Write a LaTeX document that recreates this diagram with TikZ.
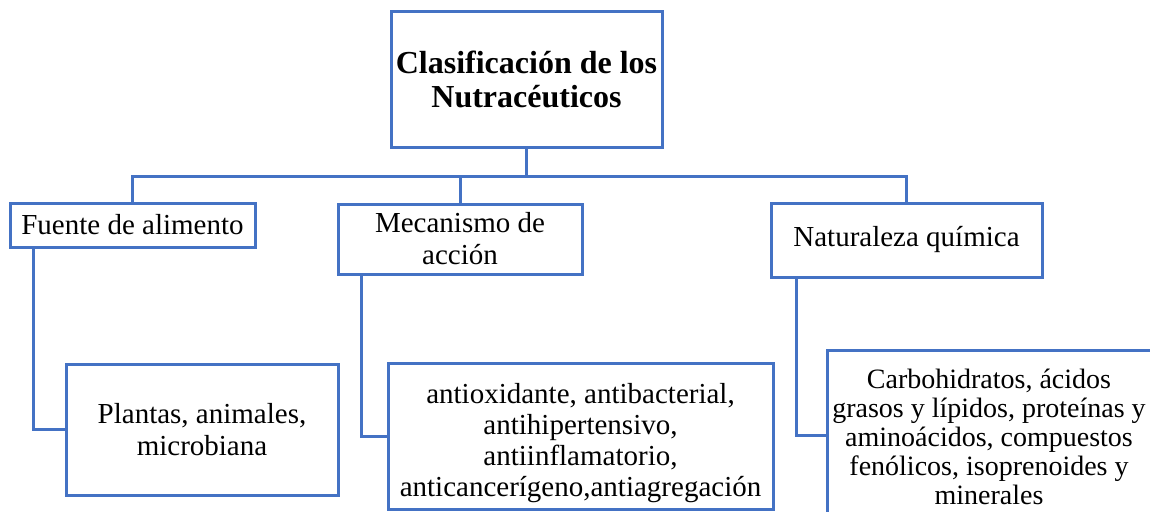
\documentclass[tikz,border=0pt]{standalone}
\usepackage{fontspec}
\setmainfont{Liberation Serif}
\definecolor{wordblue}{RGB}{68,114,196}
\tikzset{
  box/.style={draw=wordblue, line width=3pt, fill=white, align=center, inner sep=0pt,
    font=\fontsize{29}{32}\selectfont},
  titlebox/.style={box, font=\fontsize{32}{34}\selectfont\bfseries},
  txt/.style={align=center, inner sep=0pt},
  conn/.style={draw=wordblue, line width=3pt},
}
\begin{document}
\begin{tikzpicture}[x=1pt,y=-1pt]
\useasboundingbox (0,0) rectangle (1150,511);
\clip (0,0) rectangle (1150,511);
\fill[white] (0,0) rectangle (1150,511);
% title
\node[titlebox, minimum width=271pt, minimum height=135pt] (t) at (526.5,79.5) {Clasificación de los\\Nutracéuticos};
% level 1
\node[box, minimum width=245pt, minimum height=44pt] (f) at (132.5,225) {Fuente de alimento};
\node[box, minimum width=244pt, minimum height=70pt] (m) at (460,239) {Mecanismo de\\acción};
\node[box, minimum width=271pt, minimum height=74pt] (n) at (906.5,240) {Naturaleza química};
% level 2
\node[box, minimum width=272pt, minimum height=131pt] (p) at (202,429.5) {Plantas, animales,\\microbiana};
\node[box, minimum width=385pt, minimum height=146pt] (a) at (580.5,436) {};
\node[txt, font=\fontsize{29}{31}\selectfont] (at) at (580.5,443) {antioxidante, antibacterial,\\antihipertensivo,\\antiinflamatorio,\\anticancerígeno,antiagregación};
\node[box, minimum width=324pt, minimum height=170pt] (c) at (989,435) {};
\node[txt, font=\fontsize{28}{29}\selectfont] (ct) at (989,437) {Carbohidratos, ácidos\\grasos y lípidos, proteínas y\\aminoácidos, compuestos\\fenólicos, isoprenoides y\\minerales};
% connectors
\coordinate (j) at (526.5,176);
\draw[conn] (t.south) -- (j);
\draw[conn] (f.north) -- (f.north |- j) -- (n.north |- j) -- (n.north);
\draw[conn] (m.north) -- (m.north |- j);
\draw[conn] ([xshift=25pt]f.south west) |- (p.west);
\draw[conn] ([xshift=25pt]m.south west) |- (a.west);
\draw[conn] ([xshift=27pt]n.south west) |- (c.west);
\end{tikzpicture}
\end{document}
